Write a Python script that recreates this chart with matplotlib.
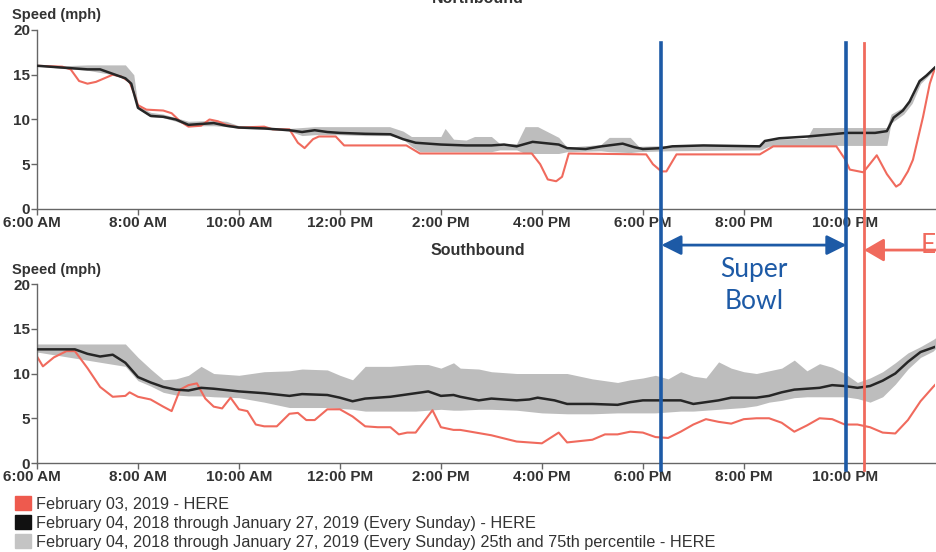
import matplotlib
matplotlib.use("Agg")
import matplotlib.pyplot as plt
import matplotlib.transforms as mtransforms
from matplotlib.lines import Line2D
from matplotlib.patches import Patch

plt.rcParams['font.family'] = ['Liberation Sans', 'DejaVu Sans']

# ---- data (times as HH:MM, speeds in mph) ----
nb_today_t = ["6:00", "6:30", "6:40", "6:50", "7:00", "7:10", "7:20", "7:30", "7:40", "7:50", "7:55",
              "8:00", "8:10", "8:30", "8:40", "8:50", "9:00", "9:15", "9:25", "9:35", "9:45", "10:00",
              "10:30", "10:40", "11:00", "11:10", "11:18", "11:28", "11:35", "11:55", "12:05", "13:19",
              "13:35", "15:48", "15:58", "16:07", "16:17", "16:24", "16:32", "18:04", "18:12", "18:22",
              "18:28", "18:40", "20:19", "20:35", "21:50", "22:00", "22:06", "22:22", "22:38", "22:50",
              "23:01", "23:06", "23:15", "23:21", "23:33", "23:41", "23:47"]
nb_today_v = [16.0, 15.9, 15.6, 14.3, 14.0, 14.2, 14.6, 15.0, 14.8, 14.2, 13.0,
              11.6, 11.1, 11.0, 10.7, 9.8, 9.2, 9.3, 10.0, 9.8, 9.4, 9.1,
              9.2, 8.9, 8.9, 7.4, 6.8, 7.8, 8.1, 8.1, 7.1, 7.1,
              6.2, 6.2, 5.0, 3.3, 3.1, 3.6, 6.2, 6.1, 5.0, 4.2,
              4.2, 6.1, 6.1, 7.0, 7.0, 5.6, 4.4, 4.1, 6.0, 3.9,
              2.5, 2.8, 4.2, 5.5, 10.3, 14.0, 15.7]

nb_typ_t = ["6:00", "6:30", "7:00", "7:15", "7:30", "7:45", "7:52", "8:00", "8:15", "8:30", "8:45",
            "9:00", "9:15", "9:30", "9:45", "10:00", "10:30", "11:00", "11:15", "11:30", "11:45",
            "12:00", "12:30", "13:00", "13:15", "13:30", "14:00", "14:30", "15:00", "15:15", "15:30",
            "15:49", "16:20", "16:30", "16:52", "17:11", "17:36", "17:50", "18:00", "18:22", "18:35",
            "19:12", "20:19", "20:25", "20:42", "21:16", "22:02", "22:36", "22:50", "22:58", "23:09",
            "23:17", "23:29", "23:37", "23:47"]
nb_typ_v = [16.0, 15.8, 15.6, 15.6, 15.1, 14.6, 14.0, 11.3, 10.4, 10.3, 10.0,
            9.4, 9.5, 9.6, 9.3, 9.1, 9.0, 8.8, 8.6, 8.8, 8.6,
            8.5, 8.4, 8.35, 7.8, 7.4, 7.2, 7.1, 7.1, 7.2, 7.0,
            7.5, 7.2, 6.8, 6.7, 7.0, 7.3, 6.9, 6.7, 6.8, 7.0,
            7.1, 7.0, 7.6, 7.9, 8.1, 8.5, 8.5, 8.7, 10.2, 11.0,
            12.0, 14.3, 14.9, 15.8]

nb_band_t = ["6:00", "6:30", "7:00", "7:30", "7:45", "7:55", "8:00", "8:15", "8:30", "8:45", "9:00",
             "9:30", "9:45", "10:00", "10:30", "11:00", "11:15", "11:30", "12:00", "12:30", "12:59",
             "13:15", "13:25", "13:35", "14:00", "14:05", "14:15", "14:30", "14:40", "15:00", "15:10",
             "15:30", "15:40", "15:55", "16:20", "16:30", "17:10", "17:20", "17:45", "17:55", "18:30",
             "20:20", "20:30", "21:15", "21:22", "22:50", "22:55", "23:10", "23:20", "23:30", "23:47"]
nb_band_lo = [16.0, 15.7, 15.5, 15.0, 14.5, 13.5, 11.2, 10.3, 10.2, 9.8, 9.3,
              9.3, 9.2, 9.0, 8.9, 8.7, 8.2, 8.3, 8.3, 8.2, 8.2,
              7.8, 7.0, 6.4, 6.4, 6.4, 6.4, 6.4, 6.4, 6.4, 6.6,
              6.6, 6.2, 6.2, 6.2, 6.4, 6.5, 6.4, 6.3, 6.4, 6.5,
              6.6, 7.0, 7.1, 7.1, 7.1, 9.6, 10.6, 11.8, 14.0, 15.6]
nb_band_hi = [16.0, 16.0, 16.1, 16.1, 16.1, 15.0, 11.5, 10.8, 10.6, 10.2, 9.8,
              9.9, 9.8, 9.3, 9.1, 9.0, 9.1, 9.2, 9.2, 9.2, 9.2,
              8.7, 8.1, 8.1, 8.1, 9.0, 7.8, 7.7, 8.1, 8.1, 7.3,
              7.3, 9.2, 9.2, 8.0, 6.9, 7.2, 8.0, 8.0, 7.0, 7.1,
              7.2, 7.8, 7.9, 9.1, 9.1, 10.6, 11.4, 12.4, 14.6, 16.0]

sb_today_t = ["6:00", "6:07", "6:20", "6:35", "6:45", "7:00", "7:15", "7:30", "7:45", "7:50", "8:00",
              "8:15", "8:30", "8:40", "8:50", "9:00", "9:10", "9:20", "9:30", "9:40", "9:50", "10:00",
              "10:10", "10:20", "10:30", "10:45", "11:00", "11:10", "11:20", "11:30", "11:45", "12:00",
              "12:15", "12:30", "12:45", "13:00", "13:10", "13:20", "13:30", "13:50", "14:00", "14:15",
              "14:23", "15:00", "15:30", "16:00", "16:20", "16:30", "17:00", "17:15", "17:30", "17:45",
              "18:00", "18:15", "18:30", "18:45", "19:00", "19:15", "19:30", "19:45", "20:00", "20:15",
              "20:30", "20:45", "21:00", "21:15", "21:30", "21:45", "22:00", "22:15", "22:30", "22:45",
              "23:00", "23:15", "23:30", "23:45", "23:48"]
sb_today_v = [11.9, 10.8, 11.8, 12.5, 12.5, 10.6, 8.5, 7.4, 7.5, 7.9, 7.4,
              7.1, 6.3, 5.8, 8.2, 8.7, 8.9, 7.2, 6.3, 6.1, 7.3, 6.0,
              5.8, 4.3, 4.1, 4.1, 5.5, 5.6, 4.8, 4.8, 6.0, 6.0,
              5.2, 4.1, 4.0, 4.0, 3.2, 3.4, 3.4, 5.9, 4.0, 3.7,
              3.7, 3.1, 2.4, 2.2, 3.4, 2.3, 2.6, 3.2, 3.2, 3.5,
              3.4, 2.9, 2.8, 3.5, 4.3, 4.9, 4.6, 4.4, 4.9, 5.0,
              5.0, 4.5, 3.5, 4.2, 5.0, 4.9, 4.3, 4.3, 4.0, 3.4,
              3.3, 4.8, 6.9, 8.5, 8.8]

sb_typ_t = ["6:00", "6:45", "7:00", "7:15", "7:30", "7:45", "8:00", "8:15", "8:30", "8:45", "9:00",
            "9:15", "9:30", "10:00", "10:30", "11:00", "11:15", "11:45", "12:00", "12:15", "12:30",
            "13:00", "13:30", "13:45", "14:00", "14:15", "14:23", "14:45", "15:00", "15:30", "15:45",
            "15:55", "16:15", "16:30", "17:00", "17:30", "17:45", "18:00", "18:45", "19:00", "19:15",
            "19:30", "19:45", "20:15", "20:30", "20:45", "21:00", "21:15", "21:30", "21:45", "22:00",
            "22:15", "22:30", "22:45", "23:00", "23:15", "23:30", "23:45", "23:48"]
sb_typ_v = [12.7, 12.7, 12.2, 11.9, 12.1, 11.2, 9.6, 9.0, 8.5, 8.2, 8.1,
            8.4, 8.3, 8.0, 7.8, 7.5, 7.7, 7.6, 7.3, 6.9, 7.2,
            7.4, 7.8, 8.0, 7.5, 7.6, 7.4, 7.0, 7.2, 7.0, 7.1,
            7.3, 7.0, 6.6, 6.6, 6.5, 6.8, 7.0, 7.0, 6.6, 6.8,
            7.0, 7.3, 7.3, 7.5, 7.9, 8.2, 8.3, 8.4, 8.7, 8.6,
            8.4, 8.6, 9.2, 10.0, 11.3, 12.4, 12.9, 13.0]

sb_band_t = ["6:00", "7:45", "8:00", "8:15", "8:30", "8:45", "9:00", "9:15", "9:30", "10:00", "10:30",
             "11:00", "11:15", "11:45", "12:00", "12:15", "12:30", "13:00", "13:30", "13:45", "14:00",
             "14:15", "14:23", "14:45", "15:00", "15:30", "16:00", "16:30", "17:00", "17:30", "17:45",
             "18:00", "18:15", "18:30", "18:45", "19:00", "19:15", "19:30", "19:45", "20:00", "20:15",
             "20:30", "20:45", "21:00", "21:15", "21:30", "21:45", "22:00", "22:15", "22:30", "22:45",
             "23:00", "23:15", "23:30", "23:45", "23:48"]
sb_band_lo = [12.4, 10.8, 9.2, 8.6, 7.9, 7.6, 7.5, 7.5, 7.4, 7.3, 6.8,
              6.2, 6.2, 6.2, 6.1, 6.0, 5.8, 5.8, 5.8, 5.9, 6.0,
              5.9, 5.9, 6.0, 6.0, 5.9, 5.6, 5.5, 5.5, 5.6, 5.6,
              5.6, 5.6, 5.7, 5.8, 5.8, 5.9, 6.0, 6.1, 6.2, 6.4,
              6.8, 7.0, 7.3, 7.4, 7.4, 7.4, 7.4, 7.2, 6.8, 7.4,
              8.8, 10.5, 11.8, 12.5, 12.8]
sb_band_hi = [13.3, 13.3, 11.8, 10.5, 9.3, 9.4, 9.8, 10.8, 10.0, 9.8, 10.2,
              10.3, 10.5, 10.4, 9.8, 9.3, 10.8, 10.8, 11.0, 11.0, 10.6,
              11.2, 10.6, 10.5, 10.2, 10.0, 10.0, 10.0, 9.4, 9.0, 9.3,
              9.5, 9.8, 9.4, 10.2, 9.7, 9.5, 11.3, 10.6, 10.2, 10.0,
              10.3, 10.6, 11.5, 10.3, 11.1, 10.7, 10.0, 9.0, 9.5, 10.2,
              11.2, 12.3, 13.0, 13.8, 14.0]

tick_hours = [6, 8, 10, 12, 14, 16, 18, 20, 22]
tick_labels = ["6:00 AM", "8:00 AM", "10:00 AM", "12:00 PM", "2:00 PM",
               "4:00 PM", "6:00 PM", "8:00 PM", "10:00 PM"]
super_bowl = ["18:22", "22:02"]
red_marker = "22:23"

legend_labels = ["February 03, 2019 - HERE",
                 "February 04, 2018 through January 27, 2019 (Every Sunday) - HERE",
                 "February 04, 2018 through January 27, 2019 (Every Sunday) 25th and 75th percentile - HERE"]

RED = "#f06a5d"
BLACK = "#262626"
GRAY = "#bdbdbd"
BLUE = "#1d5aa6"
TXT = "#333333"


def hrs(ts):
    out = []
    for s in ts:
        h, m = s.split(":")
        out.append(int(h) + int(m) / 60.0)
    return out


fig = plt.figure(figsize=(9.37, 5.52), dpi=100)
ax_n = fig.add_axes([0.0395, 0.6214, 0.958, 0.3243])
ax_s = fig.add_axes([0.0395, 0.1612, 0.958, 0.3243])

panels = [
    (ax_n, nb_band_t, nb_band_lo, nb_band_hi, nb_typ_t, nb_typ_v, nb_today_t, nb_today_v),
    (ax_s, sb_band_t, sb_band_lo, sb_band_hi, sb_typ_t, sb_typ_v, sb_today_t, sb_today_v),
]
for ax, bt, blo, bhi, kt, kv, rt, rv in panels:
    ax.fill_between(hrs(bt), blo, bhi, color=GRAY, lw=0, zorder=1)
    ax.plot(hrs(kt), kv, color=BLACK, lw=1.8, zorder=3)
    ax.plot(hrs(rt), rv, color=RED, lw=1.5, zorder=2)
    ax.set_xlim(6, 23.78)
    ax.set_ylim(0, 20)
    ax.set_yticks([0, 5, 10, 15, 20])
    ax.set_xticks(tick_hours)
    ax.set_xticklabels(tick_labels)
    for sp in ["top", "right"]:
        ax.spines[sp].set_visible(False)
    for sp in ["left", "bottom"]:
        ax.spines[sp].set_color("#666666")
        ax.spines[sp].set_linewidth(1.0)
    ax.tick_params(length=4, width=1, color="#666666", pad=1, labelsize=11, labelcolor=TXT)
    for lab in ax.get_xticklabels() + ax.get_yticklabels():
        lab.set_fontweight("bold")
    # nudge the first label a little left, like the original
    first = ax.get_xticklabels()[0]
    first.set_transform(first.get_transform() +
                        mtransforms.ScaledTranslation(-5 / 100, 0, fig.dpi_scale_trans))

fig.text(0.013, 0.973, "Speed (mph)", fontsize=10.5, fontweight="bold", color=TXT, va="center")
fig.text(0.013, 0.511, "Speed (mph)", fontsize=10.5, fontweight="bold", color=TXT, va="center")
fig.text(0.51, 1.003, "Northbound", fontsize=11.5, fontweight="bold", color=TXT, ha="center", va="center")
fig.text(0.51, 0.547, "Southbound", fontsize=11.5, fontweight="bold", color=TXT, ha="center", va="center")

# vertical event lines spanning both panels
blend = mtransforms.blended_transform_factory(ax_n.transData, fig.transFigure)
sb_hours = hrs(super_bowl)
red_hour = hrs([red_marker])[0]
for h in sb_hours:
    fig.add_artist(Line2D([h, h], [0.149, 0.922], transform=blend, color=BLUE, lw=2.6, zorder=10))
fig.add_artist(Line2D([red_hour, red_hour], [0.149, 0.922], transform=blend, color=RED, lw=2.0, zorder=10))

ax_n.annotate("", xy=(sb_hours[0], 0.556), xytext=(sb_hours[1], 0.556),
              xycoords=blend, textcoords=blend,
              arrowprops=dict(arrowstyle="<|-|>,head_length=0.6,head_width=0.3",
                              color=BLUE, lw=2, mutation_scale=20, shrinkA=0, shrinkB=0),
              annotation_clip=False)
ax_n.annotate("", xy=(red_hour, 0.547), xytext=(1.0, 0.547),
              xycoords=blend, textcoords="figure fraction",
              arrowprops=dict(arrowstyle="-|>,head_length=0.6,head_width=0.35",
                              color=RED, lw=2, mutation_scale=20, shrinkA=0, shrinkB=0),
              annotation_clip=False)
fig.text(0.983, 0.556, "E", fontsize=19, color=RED, family=["Lato", "DejaVu Sans"], va="center")

# Super Bowl label centred between the two blue lines
mid = (sb_hours[0] + sb_hours[1]) / 2
fig.text(mid, 0.483, "Super\nBowl", fontsize=19, color=BLUE, family=["Lato", "DejaVu Sans"],
         ha="center", va="center", linespacing=1.35, transform=blend)

handles = [Patch(color="#ee5a4e"), Patch(color="#111111"), Patch(color="#c4c4c4")]
fig.legend(handles, legend_labels, loc="upper left", bbox_to_anchor=(0.016, 0.102), frameon=False,
           handlelength=1.0, handleheight=1.0, handletextpad=0.3, labelspacing=0.2,
           borderaxespad=0, borderpad=0, fontsize=11.7, labelcolor=TXT)

fig.savefig("out.png", dpi=100)
